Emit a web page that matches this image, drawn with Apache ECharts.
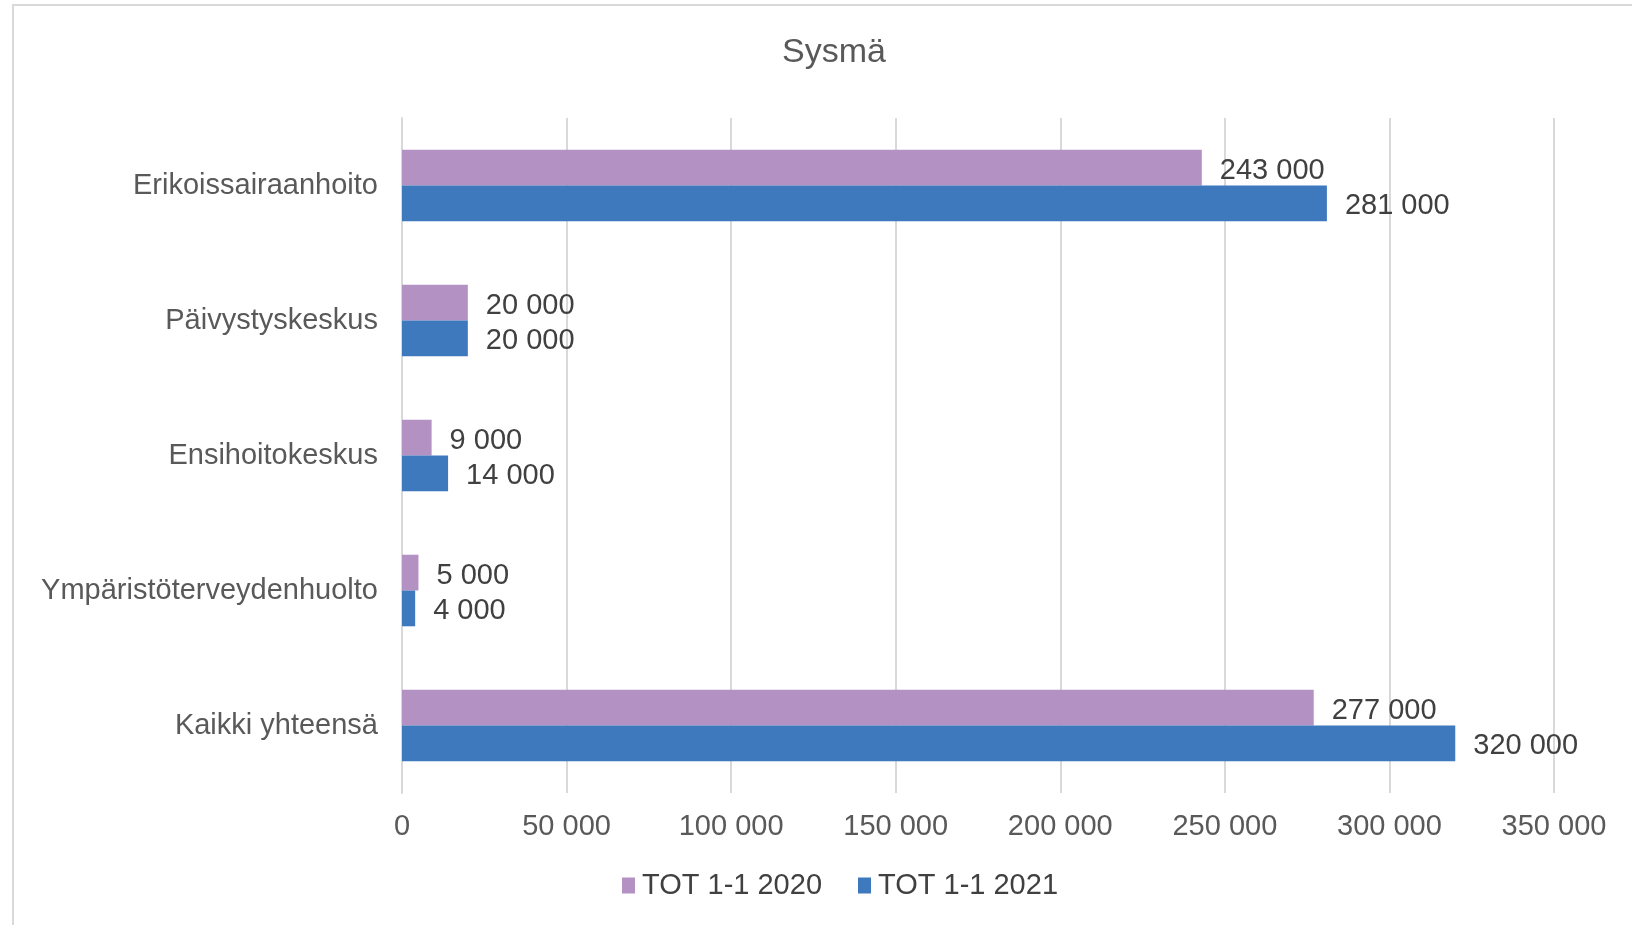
<!DOCTYPE html>
<html>
<head>
<meta charset="utf-8">
<script src="https://cdn.jsdelivr.net/npm/echarts@6/dist/echarts.min.js"></script>
<style>
    html, body {
        margin: 0;
        padding: 0;
        background: #fff;
    }
    #frame {
        position: absolute;
        left: 12px;
        top: 4px;
        width: 1640px;
        height: 940px;
        border: 2px solid #d9d9d9;
        box-sizing: border-box;
    }
    #chart {
        position: absolute;
        left: 0;
        top: 0;
        width: 1632px;
        height: 925px;
    }
</style>
</head>
<body>
<div id="frame"></div>
<div id="chart"></div>
<script>
    // kategoriat ylhäältä alas
    const categories = ['Erikoissairaanhoito', 'Päivystyskeskus', 'Ensihoitokeskus', 'Ympäristöterveydenhuolto', 'Kaikki yhteensä'];
    const seriesNames = ['TOT 1-1 2020', 'TOT 1-1 2021'];
    const values2020 = [243000, 20000, 9000, 5000, 277000];
    const values2021 = [281000, 20000, 14000, 4000, 320000];
    const xTicks = [0, 50000, 100000, 150000, 200000, 250000, 300000, 350000];

    const font = 'Liberation Sans, Arial, sans-serif';
    const fmt = v => String(v).replace(/\B(?=(\d{3})+(?!\d))/g, ' ');

    let myChart = echarts.init(document.getElementById('chart'));
    let barLabel = {
        show: true,
        position: 'right',
        distance: 18,
        offset: [0, 3],
        color: '#404040',
        fontFamily: font,
        fontSize: 29,
        formatter: p => fmt(p.value)
    };
    let option = {
        animation: false,
        title: {
            text: 'Sysmä',
            left: 829,
            textAlign: 'center',
            top: 31,
            textStyle: {
                color: '#595959',
                fontFamily: font,
                fontSize: 34,
                fontWeight: 'normal'
            }
        },
        legend: {
            bottom: 20,
            left: 617,
            itemWidth: 13,
            itemHeight: 16,
            itemGap: 36,
            icon: 'rect',
            data: seriesNames,
            textStyle: {
                color: '#404040',
                fontFamily: font,
                fontSize: 29,
                padding: [0, 0, 0, 2]
            }
        },
        grid: {
            left: 402,
            right: 78,
            top: 118,
            bottom: 132,
            containLabel: false
        },
        xAxis: {
            type: 'value',
            min: xTicks[0],
            max: xTicks[xTicks.length - 1],
            interval: 50000,
            axisLine: {show: false},
            axisTick: {show: false},
            splitLine: {lineStyle: {color: '#d9d9d9', width: 2}},
            axisLabel: {
                margin: 19,
                color: '#595959',
                fontFamily: font,
                fontSize: 29,
                formatter: v => fmt(v)
            }
        },
        yAxis: {
            type: 'category',
            inverse: true,
            data: categories,
            axisLine: {show: true, lineStyle: {color: '#d9d9d9', width: 2}},
            axisTick: {show: false},
            axisLabel: {
                margin: 24,
                color: '#595959',
                fontFamily: font,
                fontSize: 29
            }
        },
        series: [
            {
                name: seriesNames[0],
                type: 'bar',
                data: values2020,
                barGap: '0%',
                barCategoryGap: '47%',
                itemStyle: {color: '#b392c3'},
                label: barLabel
            },
            {
                name: seriesNames[1],
                type: 'bar',
                data: values2021,
                barGap: '0%',
                barCategoryGap: '47%',
                itemStyle: {color: '#3e78bd'},
                label: barLabel
            }
        ]
    };
    myChart.setOption(option);
</script>
</body>
</html>
